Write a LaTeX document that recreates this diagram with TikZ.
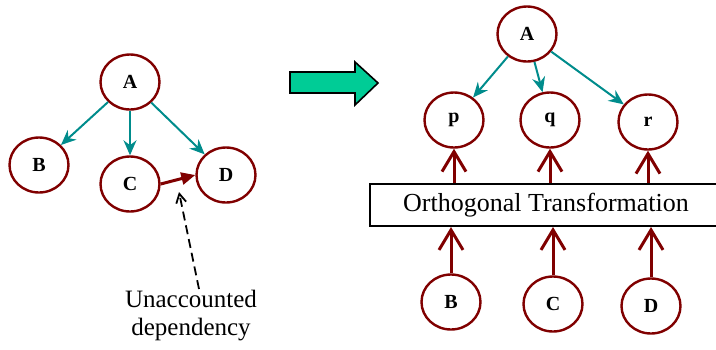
\documentclass[tikz,border=0pt]{standalone}
\usepackage{fontspec}
\setmainfont{Liberation Serif}
\usetikzlibrary{shapes.geometric,arrows.meta}
\definecolor{darkred}{RGB}{128,0,0}
\definecolor{tealline}{RGB}{0,140,140}
\definecolor{arrowgreen}{RGB}{0,204,150}

\begin{document}
\begin{tikzpicture}[x=1pt,y=-1pt,
  var/.style={ellipse,draw=darkred,line width=2.4pt,minimum width=59pt,
              minimum height=55pt,inner sep=0pt,font=\fontsize{20}{22}\selectfont\bfseries},
  dep/.style={-{Stealth[length=15pt,width=13pt]},draw=tealline,line width=2pt},
  link/.style={-{Triangle[length=14pt,width=12pt]},draw=darkred,line width=3pt},
  feed/.style={-{Straight Barb[length=20pt,width=24pt,line width=3pt]},draw=darkred,line width=3pt},
  note/.style={-{Straight Barb[length=9pt,width=10pt]},line width=1.8pt,dash pattern=on 9pt off 5pt}]
  \useasboundingbox (0,0) rectangle (716,349);
  % left: original variables
  \node[var] (la) at (130,82)  {A};
  \node[var] (lb) at (39,165)  {B};
  \node[var] (lc) at (130,184) {C};
  \node[var] (ld) at (226,175) {D};
  \draw[dep] (la) -- (lb);
  \draw[dep] (la) -- (lc);
  \draw[dep] (la) -- (ld);
  \draw[link] (lc.east) -- (ld.west);
  \node[align=center,font=\fontsize{25}{28}\selectfont] (txt) at (191,316)
    {Unaccounted\\dependency};
  \coordinate (nstart) at (199,289);
  \coordinate (nend) at (179,192);
  \draw[note] (nstart) -- (nend);
  % big arrow
  \draw[fill=arrowgreen,line width=1.6pt,line join=miter]
    (290,72) -- (355,72) -- (355,62) -- (378,83) -- (355,105) -- (355,93)
    -- (290,93) -- cycle;
  % right: transformed variables
  \node[var] (ra) at (527,34)  {A};
  \node[var] (rp) at (454,120) {p};
  \node[var] (rq) at (550,120) {q};
  \node[var] (rr) at (648,122) {r};
  \draw[dep] (ra) -- (rp);
  \draw[dep] (ra) -- (rq);
  \draw[dep] (ra) -- (rr);
  \node[draw,line width=2pt,minimum width=352pt,minimum height=42pt,
        font=\fontsize{26}{28}\selectfont] (tr) at (546,205) {Orthogonal Transformation};
  \node[var] (rb) at (451,302) {B};
  \node[var] (rc) at (553,304) {C};
  \node[var] (rd) at (651,306) {D};
  \draw[feed] (tr.north -| rp.south) -- (rp.south);
  \draw[feed] (tr.north -| rq.south) -- (rq.south);
  \draw[feed] (tr.north -| rr.south) -- (rr.south);
  \draw[feed] (rb.north) -- (rb.north |- tr.south);
  \draw[feed] (rc.north) -- (rc.north |- tr.south);
  \draw[feed] (rd.north) -- (rd.north |- tr.south);
\end{tikzpicture}
\end{document}
